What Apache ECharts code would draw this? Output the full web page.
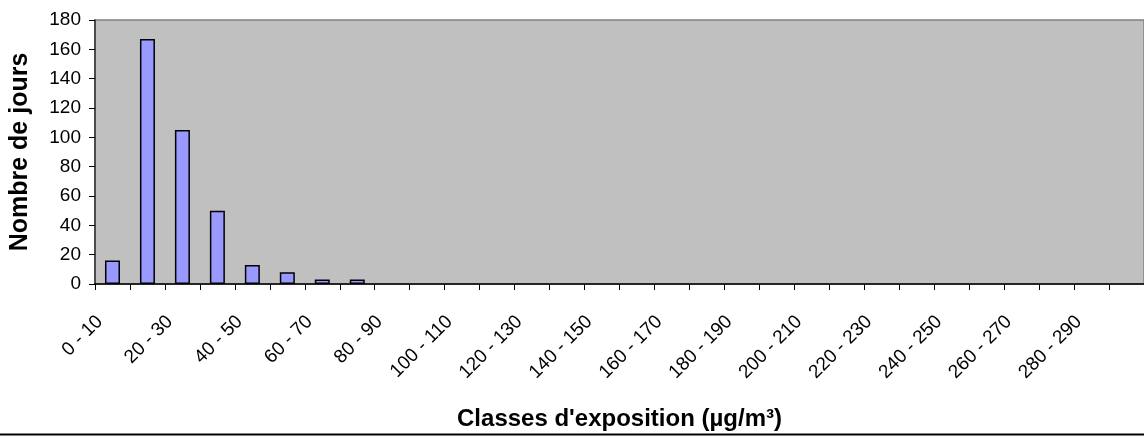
<!DOCTYPE html>
<html>
<head>
<meta charset="utf-8">
<script src="https://cdn.jsdelivr.net/npm/echarts@6/dist/echarts.min.js"></script>
<style>
html,body{margin:0;padding:0;background:#fff;}
#chart{width:1144px;height:440px;}
</style>
</head>
<body>
<div id="chart"></div>
<script>
const categories = ['0 - 10','10 - 20','20 - 30','30 - 40','40 - 50','50 - 60','60 - 70','70 - 80','80 - 90','90 - 100',
  '100 - 110','110 - 120','120 - 130','130 - 140','140 - 150','150 - 160','160 - 170','170 - 180','180 - 190','190 - 200',
  '200 - 210','210 - 220','220 - 230','230 - 240','240 - 250','250 - 260','260 - 270','270 - 280','280 - 290','290 - 300'];
const days = [16,167,105,50,13,8,3,3,0,0,0,0,0,0,0,0,0,0,0,0,0,0,0,0,0,0,0,0,0,0];
const yTitle = 'Nombre de jours';
const xTitle = "Classes d'exposition (µg/m³)";

const FONT = '"Liberation Sans", Arial, sans-serif';
// zero counts are drawn as empty (no zero-height outlined bar)
const barData = days.map(v => (v === 0 ? null : v));

const chart = echarts.init(document.getElementById('chart'), null, {renderer:'canvas'});
chart.setOption({
  animation:false,
  backgroundColor:'#ffffff',
  grid:{left:95, top:20, width:1050, height:264, show:true, backgroundColor:'#C0C0C0', borderColor:'#808080', borderWidth:1.5},
  xAxis:{
    type:'category', data:categories,
    boundaryGap:true,
    axisLine:{lineStyle:{color:'#000', width:1.5}},
    axisTick:{show:true, interval:0, length:6, lineStyle:{color:'#000', width:1}},
    axisLabel:{interval:1, rotate:45, margin:22, padding:[0,18,0,0], color:'#000', fontSize:19, fontFamily:FONT},
    name:xTitle, nameLocation:'middle', nameGap:123,
    nameTextStyle:{fontSize:24, fontWeight:'bold', color:'#000', fontFamily:FONT}
  },
  yAxis:{
    type:'value', min:0, max:180, interval:20,
    splitLine:{show:false},
    axisLine:{show:true, lineStyle:{color:'#333', width:1.5}},
    axisTick:{show:true, length:6, lineStyle:{color:'#000', width:1}},
    axisLabel:{color:'#000', fontSize:19, fontFamily:FONT, margin:14},
    name:yTitle, nameLocation:'middle', nameGap:62, nameRotate:90,
    nameTextStyle:{fontSize:25, fontWeight:'bold', color:'#000', fontFamily:FONT}
  },
  series:[{
    type:'bar', data:barData, barWidth:15,
    itemStyle:{color:'#9999FF', borderColor:'#000', borderWidth:1.5}
  }],
  graphic:[{type:'line', shape:{x1:0,y1:434.5,x2:1144,y2:434.5}, style:{stroke:'#000', lineWidth:2}, z:100}]
});
</script>
</body>
</html>
